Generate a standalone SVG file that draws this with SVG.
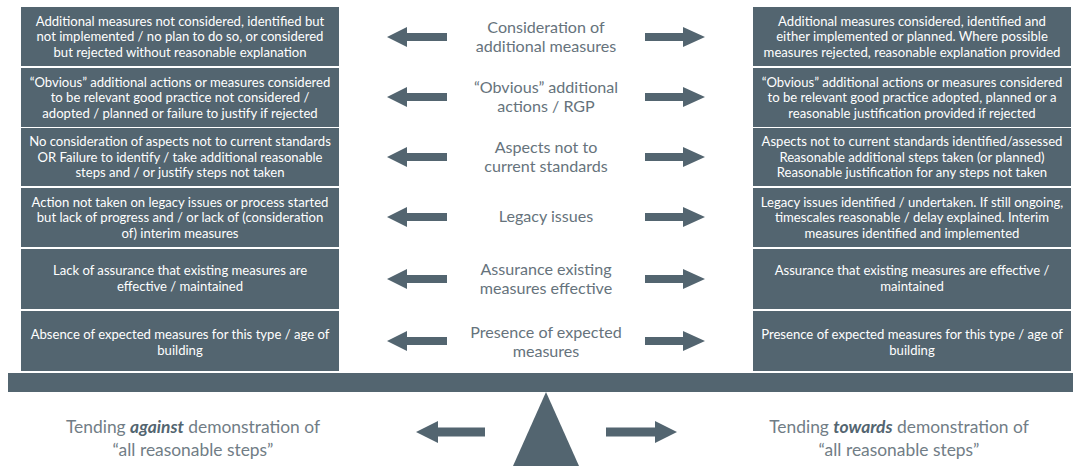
<svg xmlns="http://www.w3.org/2000/svg" xmlns:xlink="http://www.w3.org/1999/xlink" width="1073" height="466" viewBox="0 0 1073 466">
  <style>
    .box { fill: #536570; }
    .bt { font-family: Lato, "Open Sans", "Liberation Sans", sans-serif; font-size: 13.1px; fill: #ffffff; text-anchor: middle; }
    .mid { font-family: Lato, "Open Sans", "Liberation Sans", sans-serif; font-size: 16.1px; fill: #66737c; text-anchor: middle; }
    .foot { font-family: Lato, "Open Sans", "Liberation Sans", sans-serif; font-size: 17.4px; fill: #717d86; text-anchor: middle; }
    .foot .em { font-weight: 700; font-style: italic; fill: #536570; }
    .arrow { fill: #536570; }
  </style>
  <defs>
    <!-- block arrows, drawn around (0,0) -->
    <path id="arrL" d="M0,0 L20,-10 L20,-4 L60,-4 L60,4 L20,4 L20,10 Z"/>
    <path id="arrR" d="M0,-4 L38,-4 L38,-10 L60,0 L38,10 L38,4 L0,4 Z"/>
    <path id="arrLb" d="M0,0 L22,-11 L22,-4.5 L69,-4.5 L69,4.5 L22,4.5 L22,11 Z"/>
    <path id="arrRb" d="M0,-4.5 L49,-4.5 L49,-11 L71,0 L49,11 L49,4.5 L0,4.5 Z"/>
  </defs>

  <rect width="1073" height="466" fill="#ffffff"/>

  <!-- left column: tending against -->
  <g id="left-1"><rect class="box" x="21" y="7" width="318" height="59"/>
    <text class="bt" x="180" y="25.5">Additional measures not considered, identified but</text>
    <text class="bt" x="180" y="41">not implemented / no plan to do so, or considered</text>
    <text class="bt" x="180" y="56.5">but rejected without reasonable explanation</text></g>
  <g id="left-2"><rect class="box" x="21" y="68" width="318" height="59"/>
    <text class="bt" x="180" y="86.5">“Obvious” additional actions or measures considered</text>
    <text class="bt" x="180" y="102">to be relevant good practice not considered /</text>
    <text class="bt" x="180" y="117.5">adopted / planned or failure to justify if rejected</text></g>
  <g id="left-3"><rect class="box" x="21" y="128" width="318" height="58"/>
    <text class="bt" x="180" y="146">No consideration of aspects not to current standards</text>
    <text class="bt" x="180" y="161.5">OR Failure to identify / take additional reasonable</text>
    <text class="bt" x="180" y="177">steps and / or justify steps not taken</text></g>
  <g id="left-4"><rect class="box" x="21" y="188" width="318" height="59"/>
    <text class="bt" x="180" y="206.5">Action not taken on legacy issues or process started</text>
    <text class="bt" x="180" y="222">but lack of progress and / or lack of (consideration</text>
    <text class="bt" x="180" y="237.5">of) interim measures</text></g>
  <g id="left-5"><rect class="box" x="21" y="249" width="318" height="60"/>
    <text class="bt" x="180" y="275">Lack of assurance that existing measures are</text>
    <text class="bt" x="180" y="291">effective / maintained</text></g>
  <g id="left-6"><rect class="box" x="21" y="311" width="318" height="60"/>
    <text class="bt" x="180" y="339">Absence of expected measures for this type / age of</text>
    <text class="bt" x="180" y="355">building</text></g>

  <!-- right column: tending towards -->
  <g id="right-1"><rect class="box" x="753" y="7" width="318" height="59"/>
    <text class="bt" x="912" y="25.5">Additional measures considered, identified and</text>
    <text class="bt" x="912" y="41">either implemented or planned. Where possible</text>
    <text class="bt" x="912" y="56.5">measures rejected, reasonable explanation provided</text></g>
  <g id="right-2"><rect class="box" x="753" y="68" width="318" height="59"/>
    <text class="bt" x="912" y="86.5">“Obvious” additional actions or measures considered</text>
    <text class="bt" x="912" y="102">to be relevant good practice adopted, planned or a</text>
    <text class="bt" x="912" y="117.5">reasonable justification provided if rejected</text></g>
  <g id="right-3"><rect class="box" x="753" y="128" width="318" height="58"/>
    <text class="bt" x="912" y="146">Aspects not to current standards identified/assessed</text>
    <text class="bt" x="912" y="161.5">Reasonable additional steps taken (or planned)</text>
    <text class="bt" x="912" y="177">Reasonable justification for any steps not taken</text></g>
  <g id="right-4"><rect class="box" x="753" y="188" width="318" height="59"/>
    <text class="bt" x="912" y="206.5">Legacy issues identified / undertaken. If still ongoing,</text>
    <text class="bt" x="912" y="222">timescales reasonable / delay explained. Interim</text>
    <text class="bt" x="912" y="237.5">measures identified and implemented</text></g>
  <g id="right-5"><rect class="box" x="753" y="249" width="318" height="60"/>
    <text class="bt" x="912" y="275">Assurance that existing measures are effective /</text>
    <text class="bt" x="912" y="291">maintained</text></g>
  <g id="right-6"><rect class="box" x="753" y="311" width="318" height="60"/>
    <text class="bt" x="912" y="339">Presence of expected measures for this type / age of</text>
    <text class="bt" x="912" y="355">building</text></g>

  <!-- criteria labels in the middle -->
  <g id="criteria">
    <text class="mid" x="546" y="33">Consideration of</text>
    <text class="mid" x="546" y="52">additional measures</text>
    <text class="mid" x="546" y="93">“Obvious” additional</text>
    <text class="mid" x="546" y="112">actions / RGP</text>
    <text class="mid" x="546" y="153">Aspects not to</text>
    <text class="mid" x="546" y="172">current standards</text>
    <text class="mid" x="546" y="222">Legacy issues</text>
    <text class="mid" x="546" y="275">Assurance existing</text>
    <text class="mid" x="546" y="294">measures effective</text>
    <text class="mid" x="546" y="338">Presence of expected</text>
    <text class="mid" x="546" y="357">measures</text>
  </g>

  <!-- connectors: block arrows pointing to each side -->
  <g id="connectors" class="arrow">
    <use xlink:href="#arrL" x="387" y="37"/>
    <use xlink:href="#arrR" x="645" y="37"/>
    <use xlink:href="#arrL" x="387" y="97"/>
    <use xlink:href="#arrR" x="645" y="97"/>
    <use xlink:href="#arrL" x="387" y="157"/>
    <use xlink:href="#arrR" x="645" y="157"/>
    <use xlink:href="#arrL" x="387" y="217"/>
    <use xlink:href="#arrR" x="645" y="217"/>
    <use xlink:href="#arrL" x="387" y="279"/>
    <use xlink:href="#arrR" x="645" y="279"/>
    <use xlink:href="#arrL" x="387" y="341"/>
    <use xlink:href="#arrR" x="645" y="341"/>
    <use xlink:href="#arrLb" x="416" y="432"/>
    <use xlink:href="#arrRb" x="606" y="432"/>
  </g>

  <!-- balance beam and fulcrum -->
  <g id="balance">
    <rect class="box" x="8" y="373" width="1065" height="19"/>
    <polygon class="box" points="546,392 579,466 513,466"/>
  </g>

  <!-- outcome labels -->
  <g id="outcome-against">
    <text class="foot" x="193" y="433">Tending <tspan class="em">against</tspan> demonstration of</text>
    <text class="foot" x="193" y="456">“all reasonable steps”</text>
  </g>
  <g id="outcome-towards">
    <text class="foot" x="899" y="433">Tending <tspan class="em">towards</tspan> demonstration of</text>
    <text class="foot" x="899" y="456">“all reasonable steps”</text>
  </g>
</svg>
